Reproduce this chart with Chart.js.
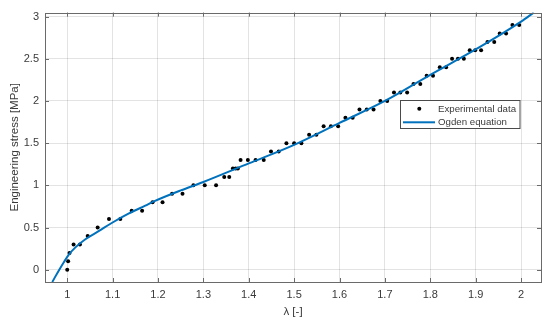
<!DOCTYPE html>
<html>
<head>
<meta charset="utf-8">
<script src="https://cdn.jsdelivr.net/npm/chart.js@4.4.1/dist/chart.umd.min.js"></script>
<style>
  html, body { margin: 0; padding: 0; background: #ffffff; }
  canvas { display: block; }
</style>
</head>
<body>
<canvas id="c" width="550" height="324"></canvas>
<script>
// ---- data ----
const expLambda = [1.000,1.002,1.005,1.014,1.028,1.045,1.067,1.092,1.117,1.142,1.165,1.188,1.210,1.231,1.254,1.278,1.303,1.328,1.346,1.357,1.365,1.371,1.376,1.382,1.398,1.415,1.433,1.449,1.466,1.483,1.500,1.516,1.533,1.549,1.565,1.581,1.597,1.613,1.629,1.644,1.660,1.675,1.690,1.705,1.720,1.734,1.749,1.763,1.778,1.792,1.806,1.821,1.835,1.848,1.861,1.874,1.887,1.899,1.912,1.926,1.941,1.953,1.967,1.981,1.996];
const expStress = [0,0.1,0.2,0.3,0.3,0.4,0.5,0.6,0.6,0.7,0.7,0.8,0.8,0.9,0.9,1.0,1.0,1.0,1.1,1.1,1.2,1.2,1.2,1.3,1.3,1.3,1.3,1.4,1.4,1.5,1.5,1.5,1.6,1.6,1.7,1.7,1.7,1.8,1.8,1.9,1.9,1.9,2.0,2.0,2.1,2.1,2.1,2.2,2.2,2.3,2.3,2.4,2.4,2.5,2.5,2.5,2.6,2.6,2.6,2.7,2.7,2.8,2.8,2.9,2.9];

const ogdenLambda = [0.967,0.9815,0.9925,1.0035,1.018,1.040,1.070,1.099,1.136,1.172,1.191,1.25,1.30,1.40,1.50,1.60,1.70,1.80,1.90,2.00,2.028];
const ogdenStress = [-0.145,-0.008,0.089,0.179,0.265,0.362,0.46,0.557,0.667,0.760,0.81,0.94,1.04,1.26,1.48,1.74,2.00,2.31,2.61,2.94,3.047];

const xTickValues = [1,1.1,1.2,1.3,1.4,1.5,1.6,1.7,1.8,1.9,2];
const yTickValues = [0,0.5,1,1.5,2,2.5,3];

const xTitle = 'λ [-]';
const yTitle = 'Engineering stress [MPa]';
const legendLabels = ['Experimental data', 'Ogden equation'];

// ---- chart ----
const FONT = '"Liberation Sans", Arial, Helvetica, sans-serif';
const TEXT = '#3a3a3a';
const GRID = 'rgba(38,38,38,0.13)';
const BOX = '#6a6a6a';
const BLUE = '#0072BD';

const axesDeco = {
  id: 'axesDeco',
  afterDatasetsDraw(chart) {
    const ctx = chart.ctx;
    const a = chart.chartArea;
    const xs = chart.scales.x, ys = chart.scales.y;
    ctx.save();
    ctx.strokeStyle = BOX;
    ctx.lineWidth = 1;
    // box
    ctx.strokeRect(Math.round(a.left) + 0.5, Math.round(a.top) + 0.5,
                   Math.round(a.right - a.left), Math.round(a.bottom - a.top));
    // inward ticks
    const tl = 4;
    ctx.beginPath();
    xs.ticks.forEach(t => {
      const px = Math.round(xs.getPixelForValue(t.value)) + 0.5;
      ctx.moveTo(px, a.bottom); ctx.lineTo(px, a.bottom - tl);
      ctx.moveTo(px, a.top); ctx.lineTo(px, a.top + tl);
    });
    ys.ticks.forEach(t => {
      const py = Math.round(ys.getPixelForValue(t.value)) + 0.5;
      ctx.moveTo(a.left, py); ctx.lineTo(a.left + tl, py);
      ctx.moveTo(a.right, py); ctx.lineTo(a.right - tl, py);
    });
    ctx.stroke();

    // legend box
    const bx = 400.5, by = 100.5, bw = 119.5, bh = 28;
    ctx.fillStyle = '#ffffff';
    ctx.fillRect(bx, by, bw, bh);
    ctx.strokeStyle = '#4a4a4a';
    ctx.strokeRect(bx, by, bw, bh);
    // marker entry
    ctx.fillStyle = '#000000';
    ctx.beginPath();
    ctx.arc(419.3, 108.8, 2, 0, Math.PI * 2);
    ctx.fill();
    // line entry
    ctx.strokeStyle = BLUE;
    ctx.lineWidth = 2;
    ctx.beginPath();
    ctx.moveTo(403, 122.3); ctx.lineTo(435, 122.3);
    ctx.stroke();
    ctx.fillStyle = TEXT;
    ctx.font = '9.7px ' + FONT;
    ctx.textBaseline = 'middle';
    ctx.textAlign = 'left';
    ctx.fillText(legendLabels[0], 438, 109);
    ctx.fillText(legendLabels[1], 438, 122.5);
    ctx.restore();
  }
};

new Chart(document.getElementById('c'), {
  type: 'scatter',
  data: {
    datasets: [
      {
        label: legendLabels[0],
        data: expLambda.map((v, i) => ({ x: v, y: expStress[i] })),
        showLine: false,
        pointRadius: 2,
        pointHoverRadius: 2,
        pointBackgroundColor: '#000000',
        pointBorderWidth: 0,
        order: 1
      },
      {
        label: legendLabels[1],
        data: ogdenLambda.map((v, i) => ({ x: v, y: ogdenStress[i] })),
        showLine: true,
        borderColor: BLUE,
        borderWidth: 2,
        pointRadius: 0,
        cubicInterpolationMode: 'monotone',
        order: 0
      }
    ]
  },
  options: {
    responsive: false,
    devicePixelRatio: 1,
    animation: false,
    events: [],
    layout: { padding: { left: 0, top: 9, right: 9, bottom: 0 } },
    plugins: { legend: { display: false }, tooltip: { enabled: false } },
    scales: {
      x: {
        type: 'linear',
        min: 0.951,
        max: 2.044,
        afterBuildTicks: s => { s.ticks = xTickValues.map(v => ({ value: v })); },
        afterFit: s => { s.height = 42; },
        grid: { color: GRID, drawTicks: false, lineWidth: 1 },
        border: { display: false },
        ticks: {
          padding: 6,
          color: TEXT,
          font: { family: FONT, size: 11 },
          maxRotation: 0,
          callback: v => String(Math.round(v * 10) / 10)
        },
        title: {
          display: true,
          text: xTitle,
          color: TEXT,
          font: { family: FONT, size: 11.5 },
          padding: { top: 0, bottom: 5.5 }
        }
      },
      y: {
        type: 'linear',
        min: -0.145,
        max: 3.047,
        afterBuildTicks: s => { s.ticks = yTickValues.map(v => ({ value: v })); },
        afterFit: s => { s.width = 45; },
        grid: { color: GRID, drawTicks: false, lineWidth: 1 },
        border: { display: false },
        ticks: {
          padding: 6,
          color: TEXT,
          font: { family: FONT, size: 11 },
          callback: v => String(Math.round(v * 10) / 10)
        },
        title: {
          display: true,
          text: yTitle,
          color: TEXT,
          font: { family: FONT, size: 11.5 },
          padding: { top: 8, bottom: 0 }
        }
      }
    }
  },
  plugins: [axesDeco]
});
</script>
</body>
</html>
